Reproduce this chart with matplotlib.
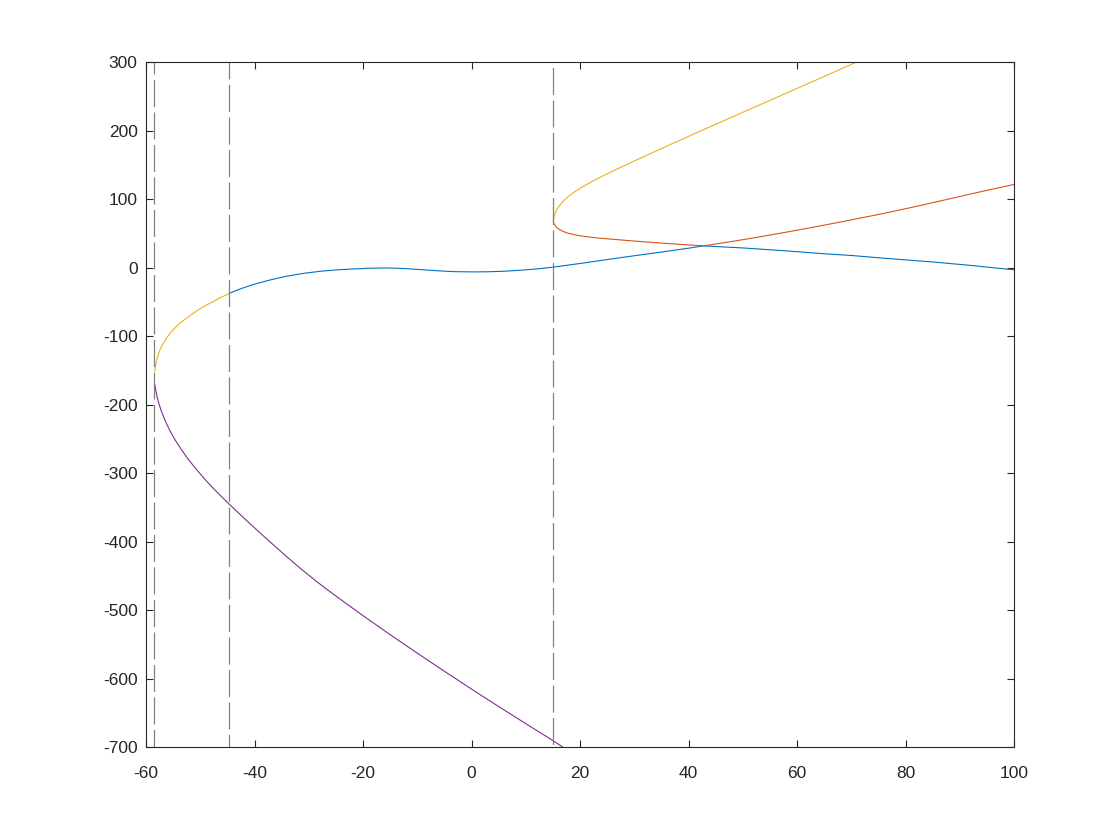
import matplotlib
matplotlib.use("Agg")
import matplotlib.pyplot as plt

plt.rcParams['font.family'] = ['Liberation Sans', 'DejaVu Sans']
plt.rcParams['axes.unicode_minus'] = False
plt.rcParams['lines.scale_dashes'] = False

# branch values
blue_x = [-44.64, -42.5, -40.2, -37.0, -34.07, -31.0, -27.9, -24.8, -21.8, -18.7,
          -15.63, -12.5, -9.5, -6.4, -3.35, 0.33, 3.0, 5.86, 9.0, 12.0, 15.08,
          20.0, 25.0, 30.0, 35.0, 40.0, 42.73, 50.0, 57.5, 65.0, 70.0, 76.0,
          85.0, 92.0, 100.0]
blue_y = [-37.2, -30.5, -24.3, -17.5, -12.3, -8.2, -5.1, -3.0, -1.7, -0.6,
          -0.2, -1.0, -2.6, -4.3, -5.6, -6.0, -5.8, -5.1, -3.6, -1.7, 1.0,
          6.3, 12.0, 17.6, 23.0, 28.6, 32.0, 29.0, 25.0, 20.5, 18.0, 14.0,
          8.5, 3.5, -3.0]

orange_x = [15.08, 15.2, 15.7, 16.5, 17.55, 19.0, 20.6, 23.5, 26.77, 29.8, 32.9,
            36.0, 39.05, 42.73, 47.0, 52.0, 57.5, 63.0, 69.0, 75.9, 81.0, 87.0,
            93.0, 100.0]
orange_y = [68.0, 64.0, 58.8, 54.5, 51.0, 48.2, 46.0, 43.3, 41.2, 39.2, 37.3,
            35.6, 33.9, 32.0, 37.2, 43.7, 51.3, 59.3, 68.4, 79.3, 88.0, 98.7,
            109.6, 121.8]

yellow_left_x = [-58.40, -58.28, -58.1, -57.85, -57.5, -57.0, -56.3, -55.5, -54.7,
                 -53.86, -52.8, -51.8, -50.8, -49.8, -48.7, -47.7, -46.2, -44.64]
yellow_left_y = [-151.0, -144.0, -137.0, -129.5, -121.0, -112.5, -103.5, -95.0,
                 -88.0, -81.5, -75.0, -69.3, -63.6, -58.6, -53.7, -49.5, -43.2,
                 -37.7]
yellow_right_x = [15.08, 15.2, 15.5, 16.0, 16.8, 17.8, 19.0, 20.6, 22.5, 24.5,
                  26.77, 29.8, 32.9, 36.5, 40.0, 45.0, 50.0, 55.0, 60.0, 65.0,
                  70.8]
yellow_right_y = [68.0, 75.5, 82.0, 88.5, 96.5, 104.0, 111.0, 119.0, 127.2, 135.4,
                  144.0, 155.3, 166.5, 179.5, 192.0, 209.6, 227.1, 244.5, 262.0,
                  279.5, 300.0]

purple_x = [-58.34, -58.2, -58.0, -57.7, -57.2, -56.5, -55.6, -54.6, -53.5, -52.2,
            -50.8, -49.2, -47.7, -46.2, -44.64, -41.3, -37.88, -34.7, -31.6,
            -28.7, -25.8, -22.9, -19.94, -15.0, -10.0, -5.0, 0.0, 5.0, 10.0,
            15.08, 16.9]
purple_y = [-171.5, -179.2, -187.2, -196.5, -209.0, -223.0, -238.0, -252.0, -265.5,
            -279.8, -293.8, -308.5, -321.4, -333.5, -345.5, -370.4, -395.2, -417.6,
            -438.8, -457.4, -474.8, -491.6, -508.5, -535.9, -562.9, -589.4, -615.4,
            -640.9, -665.9, -691.0, -700.5]

# vertical markers and their dash phase
marker_x = [-58.46, -44.64, 15.08]
marker_phase = [10.8, 7.2, 19.4]

x_ticks = [-60, -40, -20, 0, 20, 40, 60, 80, 100]
y_ticks = [-700, -600, -500, -400, -300, -200, -100, 0, 100, 200, 300]

fig = plt.figure(figsize=(11.2, 8.4), dpi=100)
ax = fig.add_axes([0.1304, 0.1107, 0.775, 0.815])

lw = 0.8
ax.plot(blue_x, blue_y, color='#0072BD', lw=lw)
ax.plot(orange_x, orange_y, color='#D95319', lw=lw)
ax.plot(yellow_left_x, yellow_left_y, color='#EDB120', lw=lw)
ax.plot(yellow_right_x, yellow_right_y, color='#EDB120', lw=lw)
ax.plot(purple_x, purple_y, color='#7E2F8E', lw=lw)

for xv, ph in zip(marker_x, marker_phase):
    ax.plot([xv, xv], [300, -700], color='#808080', lw=0.9,
            linestyle=(ph, (19.4, 4.0)))

ax.set_xlim(-60, 100)
ax.set_ylim(-700, 300)
ax.set_xticks(x_ticks)
ax.set_yticks(y_ticks)
ax.tick_params(direction='in', length=5, width=0.8, colors='#262626',
               labelsize=12.5, top=True, right=True)
ax.tick_params(axis='x', pad=13.5)
ax.tick_params(axis='y', pad=6)
for sp in ax.spines.values():
    sp.set_color('#262626')
    sp.set_linewidth(0.8)

fig.savefig('out.png', dpi=100)
